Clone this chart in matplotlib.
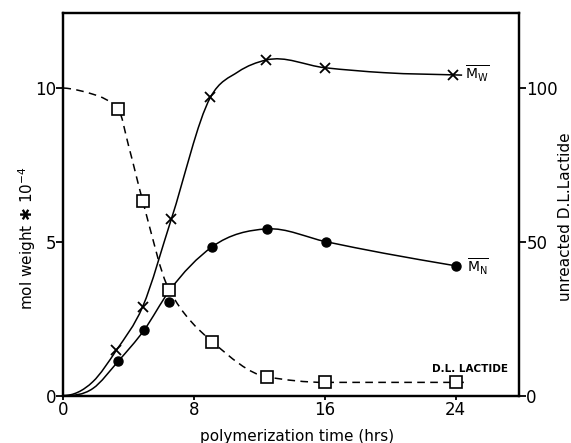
import matplotlib
matplotlib.use("Agg")
import matplotlib.pyplot as plt
import numpy as np
from matplotlib.path import Path
from matplotlib.patches import PathPatch

# measured points (time in hrs)
MW_T = [3.25, 4.85, 6.6, 9.0, 12.4, 16.0, 23.85]
MW_V = [1.48, 2.89, 5.73, 9.70, 10.91, 10.66, 10.43]      # x 10^-4

MN_T = [3.36, 4.94, 6.46, 9.11, 12.44, 16.1, 24.0]
MN_V = [1.12, 2.13, 3.05, 4.84, 5.42, 5.00, 4.22]

LAC_T = [3.36, 4.85, 6.48, 9.11, 12.44, 16.0, 24.0]
LAC_V = [93.1, 63.4, 34.3, 17.5, 6.1, 4.3, 4.3]            # unreacted %

# hand-drawn fit curves
MW_FIT_T = [0, 1.8, 3.25, 4.85, 6.6, 9.0, 10.7, 12.4, 16.0, 19.6, 24.4]
MW_FIT_V = [0, 0.45, 1.48, 2.89, 5.73, 9.70, 10.53, 10.91, 10.66, 10.50, 10.42]

MN_FIT_T = [0, 1.8, 3.36, 4.94, 6.45, 9.11, 12.44, 16.1, 19.6, 24.0]
MN_FIT_V = [0, 0.23, 1.12, 2.13, 3.38, 4.84, 5.42, 5.00, 4.63, 4.22]

LAC_FIT_T = [0, 1.8, 3.36, 4.0, 4.85, 6.48, 9.11, 12.44, 16.0, 24.0, 24.7]
LAC_FIT_V = [100, 98, 93.1, 81, 63.4, 34.3, 17.5, 6.1, 4.3, 4.3, 4.3]

X_TICKS = [0, 8, 16, 24]
Y_TICKS = [0, 5, 10]
Y2_TICKS = [0, 50, 100]


def smooth_path(xs, ys, start_slope=None, monotone=False):
    """Cubic through the nodes (bessel or monotone tangents) as bezier path."""
    x = np.asarray(xs, float)
    y = np.asarray(ys, float)
    h = np.diff(x)
    d = np.diff(y) / h
    m = np.zeros_like(x)
    m[0], m[-1] = d[0], d[-1]
    for i in range(1, len(x) - 1):
        if monotone:
            if d[i - 1] * d[i] > 0:
                w1 = 2 * h[i] + h[i - 1]
                w2 = h[i] + 2 * h[i - 1]
                m[i] = (w1 + w2) / (w1 / d[i - 1] + w2 / d[i])
        else:
            m[i] = (h[i] * d[i - 1] + h[i - 1] * d[i]) / (h[i - 1] + h[i])
    if start_slope is not None:
        m[0] = start_slope
    verts = [(x[0], y[0])]
    codes = [Path.MOVETO]
    for i in range(len(h)):
        verts += [(x[i] + h[i] / 3, y[i] + m[i] * h[i] / 3),
                  (x[i + 1] - h[i] / 3, y[i + 1] - m[i + 1] * h[i] / 3),
                  (x[i + 1], y[i + 1])]
        codes += [Path.CURVE4] * 3
    return Path(verts, codes)


fig = plt.figure(figsize=(5.71, 4.43), dpi=100)
ax = fig.add_axes([0.111, 0.107, 0.7985, 0.863])
ax2 = ax.twinx()

ax.set_xlim(0, 27.9)
ax.set_ylim(0, 12.43)
ax2.set_ylim(0, 124.3)

ax.add_patch(PathPatch(smooth_path(MW_FIT_T, MW_FIT_V, 0.0), fill=False,
                       lw=1.1, color="black", zorder=2))
ax.add_patch(PathPatch(smooth_path(MN_FIT_T, MN_FIT_V, 0.0), fill=False,
                       lw=1.1, color="black", zorder=2))
ax2.add_patch(PathPatch(smooth_path(LAC_FIT_T, LAC_FIT_V, -0.3, True),
                        fill=False, lw=1.1, color="black", ls=(0, (5, 3.5)),
                        zorder=2))

ax.plot(MW_T, MW_V, "x", color="black", ms=7, mew=1.3, zorder=4)
ax.plot(MN_T, MN_V, "o", color="black", ms=6.5, zorder=4)
ax2.plot(LAC_T, LAC_V, "s", mfc="white", mec="black", ms=8.5, mew=1.2,
         zorder=5)

for a in (ax, ax2):
    for s in a.spines.values():
        s.set_linewidth(1.6)
ax.set_xticks(X_TICKS)
ax.set_yticks(Y_TICKS)
ax2.set_yticks(Y2_TICKS)
ax.tick_params(axis="x", length=3, width=1.3, pad=1, labelsize=12)
ax.tick_params(axis="y", length=5, width=1.3, pad=0, labelsize=12)
ax2.tick_params(axis="y", length=5, width=1.3, pad=0, labelsize=12)

ax.text(24.6, 10.46, r"$\overline{\mathrm{M}_\mathrm{W}}$", fontsize=10,
        va="center", ha="left")
ax.text(24.7, 4.18, r"$\overline{\mathrm{M}_\mathrm{N}}$", fontsize=10,
        va="center", ha="left")
ax.text(27.2, 0.86, "D.L. LACTIDE", fontsize=7.5, fontweight="bold",
        ha="right", va="center")

fig.text(296.7 / 571, 1 - 436 / 443, "polymerization time (hrs)",
         fontsize=11, ha="center", va="center")
fig.text(27 / 571, 1 - 238 / 443, "mol weight \u2731 10$^{-4}$",
         fontsize=11, rotation=90, ha="center", va="center")
fig.text(565 / 571, 1 - 217 / 443, "unreacted D.L.Lactide",
         fontsize=11, rotation=90, ha="center", va="center")

fig.savefig("out.png", dpi=100)
